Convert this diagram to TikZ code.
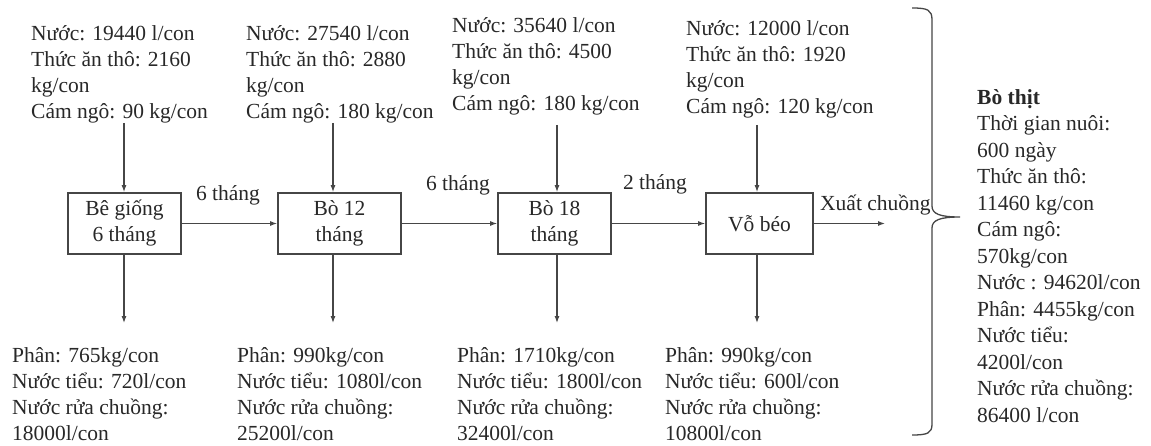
\documentclass[tikz,border=0pt]{standalone}
\usepackage{fontspec}
\setmainfont{Liberation Serif}
\usetikzlibrary{arrows.meta}
\definecolor{txtc}{RGB}{40,40,40}
\definecolor{boxc}{RGB}{70,70,70}
\definecolor{linec}{RGB}{70,70,70}
\newcommand\myfirst{\rule{0pt}{20pt}}
\begin{document}
\begin{tikzpicture}[x=1pt,y=-1pt,
  every node/.style={font=\fontsize{21.5}{26}\selectfont, text=txtc},
  blk/.style={anchor=north west, inner sep=0pt, align=left},
  rblk/.style={blk, font=\fontsize{21.5}{26.5}\selectfont},
  stage/.style={draw=boxc, line width=1.8pt, inner sep=0pt, align=center, minimum height=61pt},
  arr/.style={draw=linec, line width=1.1pt, -{Latex[length=7pt,width=5pt]}},
  lbl/.style={inner sep=0pt},
  bracecurve/.style={draw=linec, line width=1.3pt}]
\useasboundingbox (0,0) rectangle (1151,446);
\fill[white] (0,0) rectangle (1151,446);

% input blocks
\node[blk] (t1) at (31,20) {\myfirst Nước: 19440 l/con\\Thức ăn thô: 2160\\kg/con\\Cám ngô: 90 kg/con};
\node[blk] (t2) at (246,20) {\myfirst Nước: 27540 l/con\\Thức ăn thô: 2880\\kg/con\\Cám ngô: 180 kg/con};
\node[blk] (t3) at (452,12) {\myfirst Nước: 35640 l/con\\Thức ăn thô: 4500\\kg/con\\Cám ngô: 180 kg/con};
\node[blk] (t4) at (686,15) {\myfirst Nước: 12000 l/con\\Thức ăn thô: 1920\\kg/con\\Cám ngô: 120 kg/con};

% stages
\node[stage, minimum width=113pt] (b1) at (124.5,223.5) {Bê giống\\6 tháng};
\node[stage, minimum width=123pt] (b2) at (339.5,223.5) {Bò 12\\tháng};
\node[stage, minimum width=113pt] (b3) at (554.5,223.5) {Bò 18\\tháng};
\node[stage, minimum width=107pt] (b4) at (759.5,223.5) {Vỗ béo};

% arrow coordinates
\coordinate (a1) at (124,123);
\coordinate (a2) at (333,123);
\coordinate (a3) at (557,125);
\coordinate (a4) at (757,125);
\coordinate (c1) at (124,323);
\coordinate (c2) at (333,323);
\coordinate (c3) at (557,323);
\coordinate (c4) at (757,323);
\coordinate (out) at (885,223.5);

\draw[arr] (a1) -- (a1 |- b1.north);
\draw[arr] (a2) -- (a2 |- b2.north);
\draw[arr] (a3) -- (a3 |- b3.north);
\draw[arr] (a4) -- (a4 |- b4.north);
\draw[arr] (c1 |- b1.south) -- (c1);
\draw[arr] (c2 |- b2.south) -- (c2);
\draw[arr] (c3 |- b3.south) -- (c3);
\draw[arr] (c4 |- b4.south) -- (c4);
\draw[arr] (b1.east) -- (b2.west);
\draw[arr] (b2.east) -- (b3.west);
\draw[arr] (b3.east) -- (b4.west);
\draw[arr] (b4.east) -- (out);

% labels
\node[lbl] (l1) at (228,195) {6 tháng};
\node[lbl] (l2) at (458,185) {6 tháng};
\node[lbl] (l3) at (655,184) {2 tháng};
\node[lbl, anchor=west] (l4) at (820,205) {Xuất chuồng};

% output blocks
\node[blk] (d1) at (12,342) {\myfirst Phân: 765kg/con\\Nước tiểu: 720l/con\\Nước rửa chuồng:\\18000l/con};
\node[blk] (d2) at (237,342) {\myfirst Phân: 990kg/con\\Nước tiểu: 1080l/con\\Nước rửa chuồng:\\25200l/con};
\node[blk] (d3) at (457,342) {\myfirst Phân: 1710kg/con\\Nước tiểu: 1800l/con\\Nước rửa chuồng:\\32400l/con};
\node[blk] (d4) at (665,342) {\myfirst Phân: 990kg/con\\Nước tiểu: 600l/con\\Nước rửa chuồng:\\10800l/con};

% brace
\draw[bracecurve] (912,8) .. controls (928,8) and (932,10) .. (932,20)
  -- (932,206) .. controls (932,214) and (940,217) .. (960,217)
  .. controls (940,217) and (932,220) .. (932,228)
  -- (932,424) .. controls (932,433) and (928,435) .. (912,435);

% summary
\node[rblk] (r) at (977,84) {\myfirst\textbf{Bò thịt}\\Thời gian nuôi:\\600 ngày\\Thức ăn thô:\\11460 kg/con\\Cám ngô:\\570kg/con\\Nước : 94620l/con\\Phân: 4455kg/con\\Nước tiểu:\\4200l/con\\Nước rửa chuồng:\\86400 l/con};
\end{tikzpicture}
\end{document}
